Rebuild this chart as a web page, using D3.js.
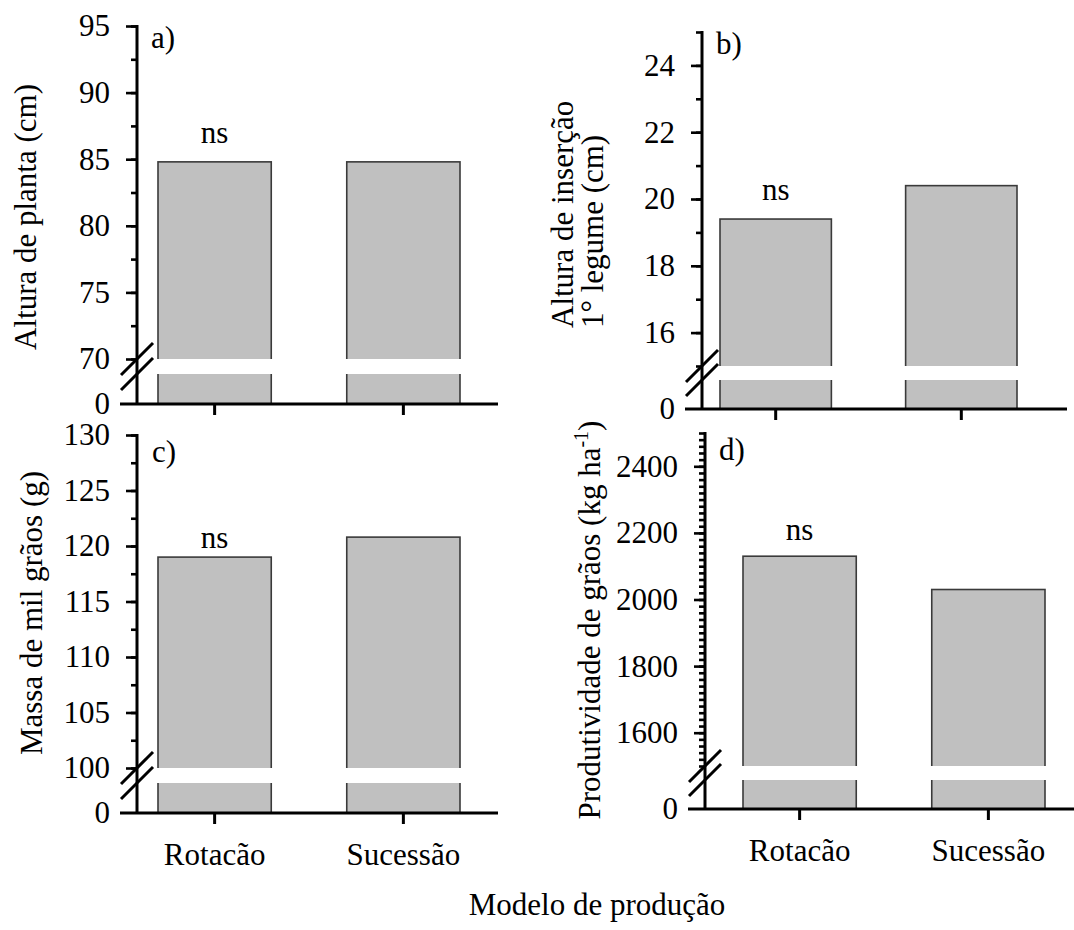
<!DOCTYPE html>
<html>
<head>
<meta charset="utf-8">
<script src="https://cdn.jsdelivr.net/npm/d3@7"></script>
<style>
  html, body { margin: 0; padding: 0; background: #fff; }
  svg { display: block; }
</style>
</head>
<body>
<svg id="chart" width="1074" height="930"></svg>
<script>
// Production model categories
const categories = ["Rotacão", "Sucessão"];

// Means per production model
const alturaPlanta   = [84.8, 84.8];    // cm
const alturaInsercao = [19.4, 20.4];    // cm
const massaMilGraos  = [119.0, 120.8];  // g
const produtividade  = [2130, 2030];    // kg ha-1

// Y axis ticks (upper segment of each broken axis)
const ticksA = [70, 75, 80, 85, 90, 95];
const minorA = d3.range(70, 95.01, 2.5);
const ticksB = [16, 18, 20, 22, 24];
const minorB = d3.range(15, 25.01, 1);
const ticksC = [100, 105, 110, 115, 120, 125, 130];
const minorC = d3.range(100, 130.01, 2.5);
const ticksD = [1600, 1800, 2000, 2200, 2400];
const minorD = d3.range(1500, 2500.01, 20);

// Significance marks and panel letters
const signif = ["ns", "ns", "ns", "ns"];
const letters = ["a)", "b)", "c)", "d)"];

const SERIF = "'Liberation Serif', 'Times New Roman', Tinos, 'DejaVu Serif', serif";
const FONT = 31;

const svg = d3.select("#chart")
  .attr("font-family", SERIF)
  .style("font-family", SERIF);

const panels = [
  { values: alturaPlanta, domain: [70, 95], major: ticksA, minor: minorA,
    axisX: 137, axisRight: 498, barLeft: 158, barRight: 460,
    top: 26, gapTop: 359, gapBottom: 374, zeroY: 404,
    letterPos: [151, 48], nsOffset: 19, xLabels: false,
    title: { lines: ["Altura de planta (cm)"], x: [36], y: 217, anchor: "middle" } },
  { values: alturaInsercao, domain: [15, 25], major: ticksB, minor: minorB,
    axisX: 702, axisRight: 1067, barLeft: 720, barRight: 1017,
    top: 32, gapTop: 366, gapBottom: 380, zeroY: 409,
    letterPos: [716, 54], nsOffset: 19, xLabels: false,
    title: { lines: ["Altura de inserção", "1° legume (cm)"], x: [573, 603], y: 328, anchor: "start" } },
  { values: massaMilGraos, domain: [100, 130], major: ticksC, minor: minorC,
    axisX: 137, axisRight: 498, barLeft: 158, barRight: 460,
    top: 435, gapTop: 768, gapBottom: 783, zeroY: 813,
    letterPos: [152, 462], nsOffset: 9, xLabels: true,
    title: { lines: ["Massa de mil grãos (g)"], x: [42], y: 613, anchor: "middle" } },
  { values: produtividade, domain: [1500, 2500], major: ticksD, minor: minorD,
    axisX: 705, axisRight: 1074, barLeft: 743, barRight: 1045,
    top: 433, gapTop: 766, gapBottom: 780, zeroY: 809,
    letterPos: [719, 460], nsOffset: 16, xLabels: true,
    title: { lines: ["Produtividade de grãos (kg ha"], sup: "-1", tail: ")", x: [600], y: 620, anchor: "middle" } }
];

function styleAxis(g) {
  g.attr("font-family", SERIF).attr("font-size", FONT);
  g.selectAll("text").attr("font-family", SERIF).attr("font-size", FONT).attr("fill", "#000");
  g.selectAll("line").attr("stroke", "#000").attr("stroke-width", 2.6);
}

function addText(parent) {
  return parent.append("text").attr("font-family", SERIF).attr("font-size", FONT).attr("fill", "#000");
}

panels.forEach((p, i) => {
  const g = svg.append("g");

  // scales: upper segment of the broken axis, lower stub down to zero
  const y = d3.scaleLinear().domain(p.domain).range([p.gapTop, p.top]);
  const yLow = d3.scaleLinear().domain([0, p.domain[0]]).range([p.zeroY, p.gapBottom]);
  const x = d3.scaleBand().domain(categories)
    .range([p.barLeft, p.barRight]).paddingInner(0.4).paddingOuter(0);

  // bars
  g.selectAll("rect.bar").data(p.values).enter().append("rect")
    .attr("class", "bar")
    .attr("x", (d, j) => x(categories[j]))
    .attr("width", x.bandwidth())
    .attr("y", d => y(d))
    .attr("height", d => yLow(0) - y(d))
    .attr("fill", "#c0c0c0")
    .attr("stroke", "#3a3a3a")
    .attr("stroke-width", 1.6);

  // white break band across the bars
  g.selectAll("rect.gap").data(p.values).enter().append("rect")
    .attr("class", "gap")
    .attr("x", (d, j) => x(categories[j]) - 3)
    .attr("width", x.bandwidth() + 6)
    .attr("y", y(p.domain[0]))
    .attr("height", yLow(p.domain[0]) - y(p.domain[0]))
    .attr("fill", "#fff");

  // y axis: minor ticks, major ticks with labels, zero label
  const minorG = g.append("g").attr("transform", `translate(${p.axisX},0)`)
    .call(d3.axisLeft(y).tickValues(p.minor).tickSize(6).tickFormat(""));
  minorG.select(".domain").remove();
  styleAxis(minorG);

  const majorG = g.append("g").attr("transform", `translate(${p.axisX},0)`)
    .call(d3.axisLeft(y).tickValues(p.major).tickSize(11).tickPadding(16).tickFormat(d3.format("d")));
  majorG.select(".domain").remove();
  styleAxis(majorG);

  const zeroG = g.append("g").attr("transform", `translate(${p.axisX},0)`)
    .call(d3.axisLeft(yLow).tickValues([0]).tickSize(0).tickPadding(27).tickFormat(d3.format("d")));
  zeroG.select(".domain").remove();
  styleAxis(zeroG);

  // y axis line
  g.append("line")
    .attr("x1", p.axisX).attr("x2", p.axisX)
    .attr("y1", y(p.domain[1]) - 1).attr("y2", yLow(0))
    .attr("stroke", "#000").attr("stroke-width", 3);

  // break marks
  [y(p.domain[0]), yLow(p.domain[0])].forEach(by => {
    g.append("line")
      .attr("x1", p.axisX - 16).attr("y1", by + 16)
      .attr("x2", p.axisX + 16).attr("y2", by - 16)
      .attr("stroke", "#000").attr("stroke-width", 3);
  });

  // x axis
  const xg = g.append("g").attr("transform", `translate(0,${yLow(0)})`)
    .call(d3.axisBottom(x).tickSize(11).tickPadding(19)
      .tickFormat(p.xLabels ? (d => d) : ""));
  xg.select(".domain").remove();
  styleAxis(xg);
  xg.selectAll("line").attr("stroke-width", 3);

  g.append("line")
    .attr("x1", p.axisX - 17).attr("x2", p.axisRight)
    .attr("y1", yLow(0)).attr("y2", yLow(0))
    .attr("stroke", "#000").attr("stroke-width", 3);

  // significance mark over the first bar
  addText(g)
    .attr("x", x(categories[0]) + x.bandwidth() / 2)
    .attr("y", y(p.values[0]) - p.nsOffset)
    .attr("text-anchor", "middle")
    .text(signif[i]);

  // panel letter
  addText(g)
    .attr("x", p.letterPos[0]).attr("y", p.letterPos[1])
    .text(letters[i]);

  // y axis title
  p.title.lines.forEach((line, k) => {
    const t = addText(g)
      .attr("transform", `translate(${p.title.x[k]},${p.title.y}) rotate(-90)`)
      .attr("text-anchor", p.title.anchor);
    t.append("tspan").text(line);
    if (p.title.sup && k === 0) {
      t.append("tspan").attr("font-size", 20).attr("dy", -12).text(p.title.sup);
      t.append("tspan").attr("dy", 12).text(p.title.tail);
    }
  });
});

// shared x axis title
addText(svg)
  .attr("x", 597).attr("y", 915)
  .attr("text-anchor", "middle")
  .text("Modelo de produção");
</script>
</body>
</html>
